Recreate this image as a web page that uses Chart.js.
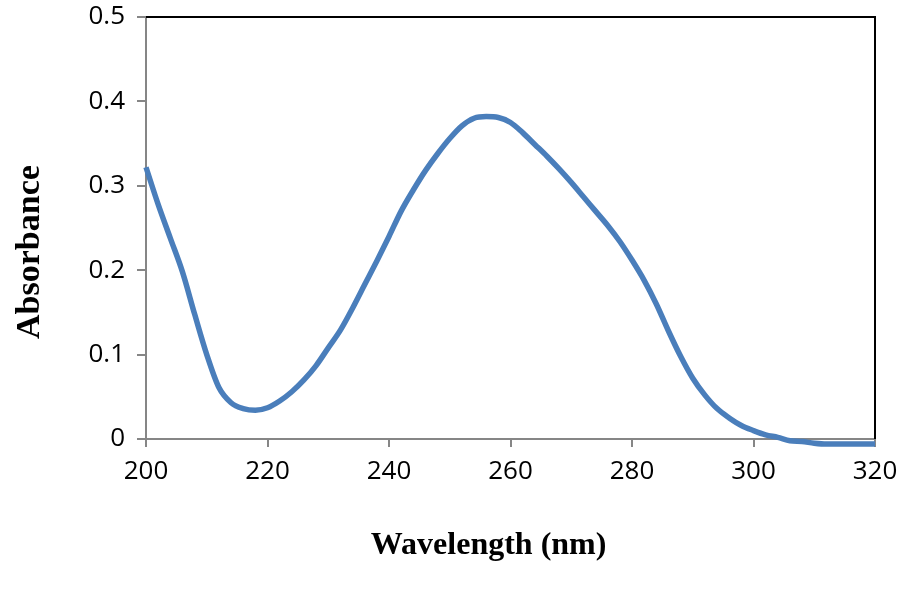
<!DOCTYPE html>
<html>
<head>
<meta charset="utf-8">
<script src="https://cdn.jsdelivr.net/npm/chart.js@4.4.1/dist/chart.umd.min.js"></script>
<style>
  html, body { margin: 0; padding: 0; background: #fff; }
  #wrap { width: 898px; height: 595px; position: relative; }
</style>
</head>
<body>
<div id="wrap"><canvas id="spectrum"></canvas></div>
<script>
// wavelength (nm) and absorbance
const wavelengths = [
  200, 202, 204, 206, 208, 210, 212, 214, 216, 218,
  220, 222, 224, 226, 228, 230, 232, 234, 236, 238,
  240, 242, 244, 246, 248, 250, 252, 254, 256, 258,
  260, 262, 264, 266, 268, 270, 272, 274, 276, 278,
  280, 282, 284, 286, 288, 290, 292, 294, 296, 298,
  300, 302, 304, 306, 308, 310, 312, 314, 316, 318, 320
];
const absorbance = [
  0.322, 0.278, 0.238, 0.198, 0.148, 0.100, 0.061, 0.043, 0.036, 0.034,
  0.037, 0.045, 0.056, 0.070, 0.087, 0.108, 0.129, 0.155, 0.183, 0.211,
  0.240, 0.270, 0.295, 0.318, 0.338, 0.356, 0.371, 0.380, 0.382, 0.381,
  0.375, 0.363, 0.349, 0.335, 0.320, 0.304, 0.287, 0.270, 0.253, 0.234,
  0.212, 0.188, 0.160, 0.128, 0.098, 0.072, 0.052, 0.036, 0.025, 0.016,
  0.010, 0.005, 0.002, -0.002, -0.003, -0.005, -0.006, -0.006, -0.006, -0.006, -0.006
];
const xTicks = [200, 220, 240, 260, 280, 300, 320];
const yTicks = [0, 0.1, 0.2, 0.3, 0.4, 0.5];
const xTitle = 'Wavelength (nm)';
const yTitle = 'Absorbance';

const axisGray = '#868686';
const tickFont = { family: '"Open Sans", "Liberation Sans", sans-serif', size: 26 };
const titleFamily = '"Liberation Serif", "Times New Roman", serif';

// black frame on top/right plus the axis titles (placed like Excel does)
const frameAndTitles = {
  id: 'frameAndTitles',
  afterDraw(chart) {
    const { ctx, chartArea: a } = chart;
    ctx.save();
    ctx.strokeStyle = '#000';
    ctx.lineWidth = 2;
    ctx.beginPath();
    ctx.moveTo(a.left, a.top);
    ctx.lineTo(a.right, a.top);
    ctx.lineTo(a.right, a.bottom);
    ctx.stroke();

    ctx.fillStyle = '#000';
    ctx.textAlign = 'center';
    ctx.textBaseline = 'middle';
    ctx.font = 'bold 32px ' + titleFamily;
    ctx.fillText(xTitle, a.left + (a.right - a.left) * 0.47, a.bottom + 107);

    ctx.translate(30, a.top + (a.bottom - a.top) * 0.557);
    ctx.rotate(-Math.PI / 2);
    ctx.font = 'bold 34px ' + titleFamily;
    ctx.fillText(yTitle, 0, 0);
    ctx.restore();
  }
};

new Chart(document.getElementById('spectrum'), {
  type: 'line',
  data: {
    labels: wavelengths,
    datasets: [{
      data: wavelengths.map((w, i) => ({ x: w, y: absorbance[i] })),
      borderColor: '#4a7ebb',
      borderWidth: 5.5,
      pointRadius: 0,
      cubicInterpolationMode: 'monotone',
      fill: false,
      clip: false
    }]
  },
  options: {
    responsive: true,
    maintainAspectRatio: false,
    animation: false,
    layout: { padding: { top: 0, right: 0, left: 0, bottom: 0 } },
    plugins: { legend: { display: false }, tooltip: { enabled: false } },
    scales: {
      x: {
        type: 'linear',
        min: 200,
        max: 320,
        afterBuildTicks(scale) { scale.ticks = xTicks.map(v => ({ value: v })); },
        afterFit(scale) { scale.height = 156; scale.paddingRight = 23; },
        border: { color: axisGray, width: 2 },
        grid: { drawOnChartArea: false, drawTicks: true, tickLength: 8, color: axisGray, lineWidth: 2 },
        ticks: { color: '#000', font: tickFont, padding: 9, maxRotation: 0 }
      },
      y: {
        min: 0,
        max: 0.5,
        afterBuildTicks(scale) { scale.ticks = yTicks.map(v => ({ value: v })); },
        afterFit(scale) { scale.width = 146; scale.paddingTop = 17; scale.paddingBottom = 0; },
        border: { color: axisGray, width: 2 },
        grid: { drawOnChartArea: false, drawTicks: true, tickLength: 9, color: axisGray, lineWidth: 2 },
        ticks: { color: '#000', font: tickFont, padding: 12, callback: v => String(+v.toFixed(1)) }
      }
    }
  },
  plugins: [frameAndTitles]
});
</script>
</body>
</html>
